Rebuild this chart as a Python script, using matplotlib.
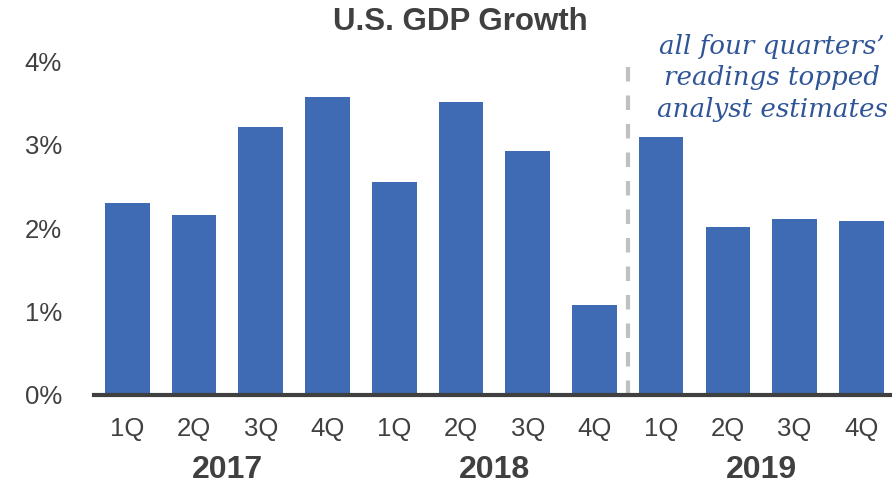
import matplotlib
matplotlib.use("Agg")
import matplotlib.pyplot as plt
from matplotlib.ticker import FuncFormatter

quarters = ["1Q", "2Q", "3Q", "4Q", "1Q", "2Q", "3Q", "4Q", "1Q", "2Q", "3Q", "4Q"]
gdp_growth = [2.30, 2.16, 3.21, 3.57, 2.56, 3.52, 2.93, 1.08, 3.10, 2.02, 2.11, 2.09]
years = ["2017", "2018", "2019"]
year_groups = [(0, 3), (4, 7), (8, 11)]
y_ticks = [0, 1, 2, 3, 4]
title = "U.S. GDP Growth"
note = "all four quarters\u2019\nreadings topped\nanalyst estimates"

W, H = 892, 484
fig = plt.figure(figsize=(W / 100, H / 100), dpi=100)
ax = fig.add_axes([94 / W, 1 - 395 / H, 1 - 94 / W, (395 - 61.5) / H])

txt = "#404040"
bar_color = "#3e6bb4"
x = list(range(len(gdp_growth)))
ax.bar(x, gdp_growth, width=0.67, color=bar_color, zorder=2)

ax.set_xlim(-0.5, 11.46)
ax.set_ylim(0, 4)
ax.set_yticks(y_ticks)
ax.yaxis.set_major_formatter(FuncFormatter(lambda v, p: f"{v:.0f}%"))
ax.set_xticks(x)
ax.set_xticklabels(quarters)
for s in ["top", "right", "left"]:
    ax.spines[s].set_visible(False)
ax.spines["bottom"].set_color("#404040")
ax.spines["bottom"].set_linewidth(3)
ax.spines["bottom"].set_zorder(3)
ax.tick_params(axis="both", length=0, labelsize=18.5, colors=txt)
ax.tick_params(axis="y", pad=23)
ax.tick_params(axis="x", pad=16)
for lab in ax.get_xticklabels() + ax.get_yticklabels():
    lab.set_fontfamily("Liberation Sans")

# year labels
for yr, (a, b) in zip(years, year_groups):
    ax.text((a + b) / 2, -0.9, yr, ha="center", va="center", fontsize=23,
            fontweight="bold", color=txt, family="Liberation Sans", clip_on=False)

# separator
lw = 3
ax.plot([7.5, 7.5], [3.93, 0], color="#c0c0c0", lw=lw,
        dashes=(14.5 / 1.389 / lw, 14 / 1.389 / lw), dash_capstyle="butt", zorder=1)

fig.text(460 / W, 1 - 22 / H, title, ha="center", va="center", fontsize=22.5,
         fontweight="bold", color=txt, family="Liberation Sans")

fig.text(772 / W, 1 - 78 / H, note, ha="center", va="center", fontsize=18.8,
         style="italic", color="#2f5597", family="DejaVu Serif", linespacing=1.32)

fig.savefig("out.png", dpi=100)
